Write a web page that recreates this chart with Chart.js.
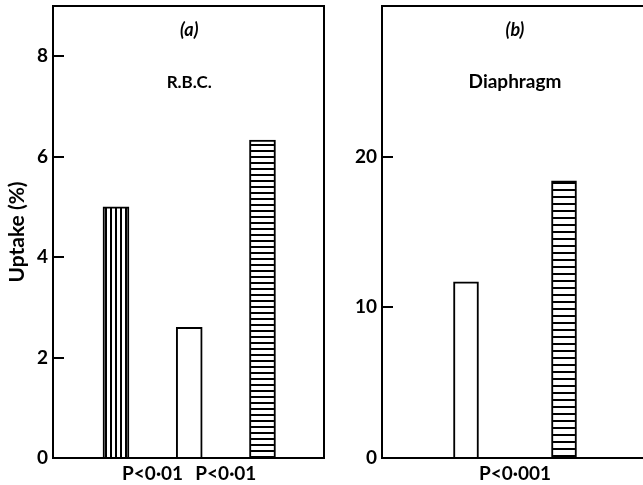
<!DOCTYPE html>
<html>
<head>
<meta charset="utf-8">
<script src="https://cdn.jsdelivr.net/npm/chart.js@4"></script>
<style>
  html, body { margin: 0; padding: 0; background: #fff; overflow: hidden; }
  .panel { position: absolute; top: 0; height: 485px; }
  #pa { left: 0; width: 330px; }
  #pb { left: 330px; width: 313px; }
</style>
</head>
<body>
<div class="panel" id="pa"><canvas id="chartA"></canvas></div>
<div class="panel" id="pb"><canvas id="chartB"></canvas></div>
<script>
// panel (a) R.B.C.
var slotsA = [1, 2, 3];
var uptakeA = [5.0, 2.6, 6.33];
var ticksA = [0, 2, 4, 6, 8];
var pLabelsA = ['P<0·01', 'P<0·01'];

// panel (b) Diaphragm
var slotsB = [1, 2];
var uptakeB = [11.7, 18.4];
var ticksB = [0, 10, 20];
var pLabelsB = ['P<0·001'];

Chart.defaults.font.family = 'Lato';
Chart.defaults.color = '#000';
Chart.defaults.animation = false;

// hatching for the bars
function stripes(ctx, w, h, vertical) {
  var c = document.createElement('canvas');
  c.width = w; c.height = h;
  var g = c.getContext('2d');
  g.fillStyle = '#fff';
  g.fillRect(0, 0, w, h);
  g.fillStyle = '#000';
  if (vertical) g.fillRect(0, 0, 2, h);
  else g.fillRect(0, 0, w, 2);
  return ctx.createPattern(c, 'repeat');
}

// text written inside the frame
var panelText = {
  id: 'panelText',
  afterDraw: function (chart, args, opts) {
    var ctx = chart.ctx;
    var cx = chart.scales.x.getPixelForValue(opts.centre);
    ctx.save();
    ctx.fillStyle = '#000';
    ctx.textAlign = 'center';
    ctx.textBaseline = 'middle';
    opts.items.forEach(function (it) {
      ctx.font = it.font;
      ctx.fillText(it.text, cx, chart.chartArea.top + it.dy);
    });
    ctx.restore();
  }
};

function frameAxis(pos) {
  return {
    type: 'linear',
    position: pos,
    display: true,
    grid: { display: false, drawTicks: false },
    ticks: { display: false },
    border: { display: true, color: '#000', width: 2 }
  };
}

function makeChart(id, slots, values, colors, yTicks, yMax, pLabels, xMin, xMax, barW, yWidth, yTitle, texts, padRight, rightBorder) {
  var ctx = document.getElementById(id).getContext('2d');
  var scales = {
    x: {
      type: 'linear',
      offset: false,
      min: xMin,
      max: xMax,
      grid: { display: false, drawTicks: false },
      border: { display: true, color: '#000', width: 2 },
      afterBuildTicks: function (s) {
        s.ticks = pLabels.map(function (t, i) { return { value: (slots[i] + slots[i + 1]) / 2 }; });
      },
      ticks: {
        padding: 4,
        maxRotation: 0,
        autoSkip: false,
        font: { size: 19, weight: 'bold' },
        callback: function (v, i) { return pLabels[i]; }
      },
      afterFit: function (s) { s.height = 27; s.paddingLeft = 0; s.paddingRight = 0; }
    },
    y: {
      min: 0,
      max: yMax,
      grid: { display: true, drawOnChartArea: false, drawTicks: true, tickLength: -11, color: '#000', lineWidth: 2 },
      border: { display: true, color: '#000', width: 2 },
      afterBuildTicks: function (s) {
        s.ticks = yTicks.map(function (v) { return { value: v }; });
      },
      ticks: { padding: 16, font: { size: 19, weight: 'bold' } },
      title: {
        display: !!yTitle,
        text: yTitle,
        font: { size: 21, weight: 'bold' },
        padding: { top: 5, bottom: 0 }
      },
      afterFit: function (s) { s.width = yWidth; s.paddingTop = 0; s.paddingBottom = 0; }
    },
    x2: frameAxis('top')
  };
  if (rightBorder) scales.y2 = frameAxis('right');

  return new Chart(ctx, {
    type: 'bar',
    data: {
      datasets: [{
        data: slots.map(function (s, i) { return { x: s, y: values[i] }; }),
        backgroundColor: colors(ctx),
        borderColor: '#000',
        borderWidth: 2,
        borderSkipped: 'start',
        barThickness: barW
      }]
    },
    options: {
      maintainAspectRatio: false,
      responsive: true,
      layout: { padding: { top: 6, right: padRight, left: 0, bottom: 0 } },
      plugins: {
        legend: { display: false },
        tooltip: { enabled: false },
        panelText: { centre: (slots[0] + slots[slots.length - 1]) / 2, items: texts }
      },
      scales: scales
    },
    plugins: [panelText]
  });
}

makeChart('chartA', slotsA, uptakeA,
  function (ctx) { return [stripes(ctx, 5, 1, true), '#fff', stripes(ctx, 1, 6, false)]; },
  ticksA, 9, pLabelsA, 0.14, 3.84, 26, 53, 'Uptake (%)',
  [{ text: '(a)', dy: 24, font: 'italic bold 18px Lato' },
   { text: 'R.B.C.', dy: 77, font: 'bold 17px Lato' }],
  6, true);

makeChart('chartB', slotsB, uptakeB,
  function (ctx) { return ['#fff', stripes(ctx, 1, 7, false)]; },
  ticksB, 30, pLabelsB, 0.143, 2.806, 25, 52, '',
  [{ text: '(b)', dy: 24, font: 'italic bold 18px Lato' },
   { text: 'Diaphragm', dy: 76, font: 'bold 19px Lato' }],
  0, false);
</script>
</body>
</html>
